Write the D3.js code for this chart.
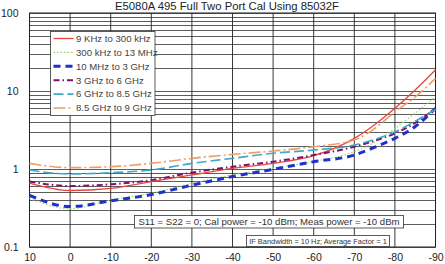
<!DOCTYPE html>
<html>
<head>
<meta charset="utf-8">
<script src="https://cdn.jsdelivr.net/npm/d3@7"></script>
<style>
  body { margin: 0; background: #fff; }
  text { font-family: "Liberation Sans", Arial, sans-serif; }
</style>
</head>
<body>
<svg id="chart" width="445" height="264"></svg>
<script>
// power levels (dBm), x axis runs from 10 down to -90
var power = [10, 0, -10, -20, -30, -40, -50, -60, -70, -75, -80, -85, -90];

// values
var red    = [0.66, 0.53, 0.565, 0.69, 0.84, 1.02, 1.18, 1.48, 2.47, 3.7, 6.0, 10.3, 18.6];
var green  = [0.42, 0.31, 0.40, 0.49, 0.655, 0.84, 1.02, 1.24, 1.67, 2.2, 3.3, 5.2, 8.4];
var blue   = [0.46, 0.33, 0.39, 0.47, 0.62, 0.80, 0.99, 1.24, 1.51, 1.9, 2.47, 3.5, 6.0];
var purple = [0.69, 0.605, 0.636, 0.72, 0.90, 1.07, 1.24, 1.51, 1.93, 2.3, 2.86, 3.9, 6.0];
var teal   = [0.97, 0.863, 0.897, 0.97, 1.18, 1.37, 1.59, 1.75, 2.03, 2.4, 3.0, 4.1, 5.8];
var orange = [1.18, 1.04, 1.07, 1.18, 1.37, 1.54, 1.70, 1.93, 2.35, 3.3, 5.4, 8.4, 14.5];

var seriesNames = ["9 KHz to 300 kHz", "300 kHz to 13 MHz", "10 MHz to 3 GHz",
                   "3 GHz to 6 GHz", "6 GHz to 8.5 GHz", "8.5 GHz to 9 GHz"];
var xTicks = [10, 0, -10, -20, -30, -40, -50, -60, -70, -80, -90];
var yTicks = [0.1, 1, 10, 100];

var styles = [
  {color: "#e8463c", width: 1.3, dash: null},
  {color: "#8fd66a", width: 1.1, dash: "1.5,2"},
  {color: "#1f2fd0", width: 3, dash: "7,5"},
  {color: "#7a1468", width: 2, dash: "6,3,1.5,3"},
  {color: "#3fa9c9", width: 1.6, dash: "10,4"},
  {color: "#eaa068", width: 1.6, dash: "12,3,2,3"}
];
var allSeries = [red, green, blue, purple, teal, orange];

var svg = d3.select('#chart');
var padding = {t: 13, r: 9.5, b: 17, l: 29.5};
var width = 445 - padding.l - padding.r;
var height = 264 - padding.t - padding.b;

var xScale = d3.scaleLinear().domain([10, -90]).range([0, width]);
var yScale = d3.scaleLog().domain([0.1, 100]).range([height, 0]);

var g = svg.append('g')
    .attr('transform', 'translate(' + padding.l + ',' + padding.t + ')');

// title
svg.append('text')
    .attr('x', 227).attr('y', 9.5)
    .attr('text-anchor', 'middle')
    .style('font-size', '11.3px')
    .style('fill', '#222')
    .text('E5080A 495 Full Two Port Cal Using 85032F');

// horizontal grid, 1..9 in every decade
var minor = [];
[0.1, 1, 10].forEach(function(d) {
    for (var k = 1; k < 10; k++) minor.push(d * k);
});
minor.push(100);
g.selectAll('.hgrid')
    .data(minor)
    .enter().append('line')
    .attr('class', 'hgrid')
    .attr('x1', 0).attr('x2', width)
    .attr('y1', function(d) { return Math.round(yScale(d)) + 0.5; })
    .attr('y2', function(d) { return Math.round(yScale(d)) + 0.5; })
    .style('stroke', '#333')
    .style('stroke-width', 0.8);

// vertical grid
g.selectAll('.vgrid')
    .data(xTicks)
    .enter().append('line')
    .attr('class', 'vgrid')
    .attr('x1', function(d) { return xScale(d); })
    .attr('x2', function(d) { return xScale(d); })
    .attr('y1', 0).attr('y2', height)
    .style('stroke', '#222')
    .style('stroke-width', 0.9);

// border
g.append('rect')
    .attr('width', width).attr('height', height)
    .style('fill', 'none').style('stroke', '#222').style('stroke-width', 1);

// axes (plain hyphen for negatives, like the original)
var xAxis = d3.axisBottom(xScale).tickValues(xTicks)
    .tickFormat(function(d) { return String(d); })
    .tickSize(0).tickPadding(7);
g.append('g')
    .attr('transform', 'translate(0,' + height + ')')
    .call(xAxis)
    .call(function(s) { s.select('.domain').remove(); })
    .selectAll('text')
    .style('font-size', '10.5px')
    .style('fill', '#222')
    .style('font-family', '"Liberation Sans", Arial, sans-serif');

var yAxis = d3.axisLeft(yScale).tickValues(yTicks)
    .tickFormat(function(d) { return d < 1 ? '0.1' : String(d); })
    .tickSize(0).tickPadding(11);
g.append('g')
    .call(yAxis)
    .call(function(s) { s.select('.domain').remove(); })
    .selectAll('text')
    .style('font-size', '10.5px')
    .style('fill', '#222')
    .style('font-family', '"Liberation Sans", Arial, sans-serif');

// curves
var line = d3.line()
    .x(function(d) { return xScale(d[0]); })
    .y(function(d) { return yScale(d[1]); })
    .curve(d3.curveMonotoneX);

allSeries.forEach(function(vals, i) {
    var pts = power.map(function(p, j) { return [p, vals[j]]; });
    g.append('path')
        .datum(pts)
        .attr('d', line)
        .style('fill', 'none')
        .style('stroke', styles[i].color)
        .style('stroke-width', styles[i].width)
        .style('stroke-dasharray', styles[i].dash);
});

// legend
var legend = svg.append('g').attr('transform', 'translate(50.5,31.5)');
legend.append('rect')
    .attr('width', 104.5).attr('height', 84)
    .style('fill', '#fff').style('stroke', '#333').style('stroke-width', 0.8);
seriesNames.forEach(function(name, i) {
    var y = 7 + i * 13.9;
    legend.append('line')
        .attr('x1', 3).attr('x2', 23)
        .attr('y1', y).attr('y2', y)
        .style('stroke', styles[i].color)
        .style('stroke-width', styles[i].width)
        .style('stroke-dasharray', styles[i].dash);
    legend.append('text')
        .attr('x', 25.5).attr('y', y + 3.3)
        .style('font-size', '9.6px')
        .style('fill', '#444')
        .text(name);
});

// annotation boxes
function note(x, y, w, h, size, txt) {
    svg.append('rect')
        .attr('x', x).attr('y', y).attr('width', w).attr('height', h)
        .style('fill', '#fff').style('stroke', '#333').style('stroke-width', 0.8);
    svg.append('text')
        .attr('x', x + w / 2).attr('y', y + h / 2 + size * 0.36)
        .attr('text-anchor', 'middle')
        .style('font-size', size + 'px')
        .style('fill', '#333')
        .text(txt);
}
note(134.5, 215.5, 269, 12.5, 9.6, 'S11 = S22 = 0; Cal power = -10 dBm; Meas power = -10 dBm');
note(246.5, 235.5, 143, 11, 7.4, 'IF Bandwidth = 10 Hz; Average Factor = 1');
</script>
</body>
</html>
